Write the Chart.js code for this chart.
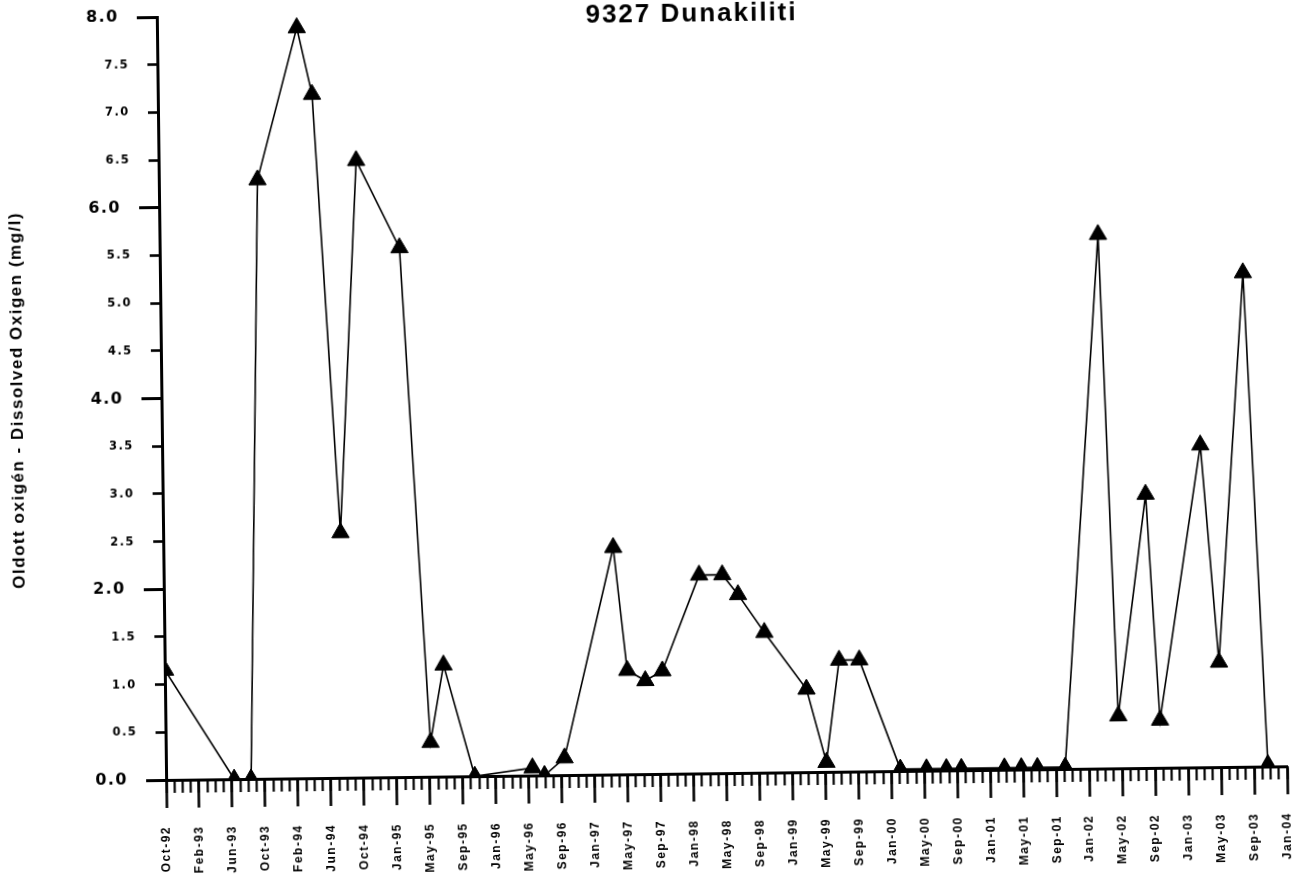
<!DOCTYPE html>
<html>
<head>
<meta charset="utf-8">
<title>9327 Dunakiliti</title>
<script src="https://cdn.jsdelivr.net/npm/chart.js@4.4.0/dist/chart.umd.min.js"></script>
<style>
  html, body { margin: 0; padding: 0; background: #fff; overflow: hidden; }
  /* the printed sheet sits slightly skewed on the scanner */
  #wrap { width: 1306px; height: 879px; transform: rotate(-0.7deg); }
</style>
</head>
<body>
<div id="wrap"><canvas id="oxygen"></canvas></div>
<script>
var stationName = '9327 Dunakiliti';
var yTitle = 'Oldott oxigén - Dissolved Oxigen (mg/l)';

// sampling dates and dissolved oxygen (mg/l)
var sampleDates = [
  '1992-10-06', '1993-06-12', '1993-08-13', '1993-10-02', '1994-03-02',
  '1994-04-24', '1994-07-18', '1994-09-30', '1995-03-04', '1995-06-04',
  '1995-07-25', '1995-11-12', '1996-06-11', '1996-07-25', '1996-10-07',
  '1997-04-13', '1997-05-29', '1997-08-03', '1997-10-05', '1998-02-21',
  '1998-05-17', '1998-07-13', '1998-10-16', '1999-03-17', '1999-05-26',
  '1999-07-16', '1999-09-28', '2000-02-21', '2000-05-27', '2000-08-08',
  '2000-10-02', '2001-03-09', '2001-05-10', '2001-07-08', '2001-10-18',
  '2002-03-11', '2002-05-03', '2002-08-21', '2002-10-03', '2003-03-12',
  '2003-05-10', '2003-08-23', '2003-11-01'
];
var oxygenValues = [
  1.15, 0.0, 0.0, 6.28, 7.87,
  7.17, 2.57, 6.47, 5.55, 0.36,
  1.17, 0.0, 0.08, 0.0, 0.18,
  2.38, 1.09, 0.98, 1.08, 2.08,
  2.08, 1.87, 1.47, 0.87, 0.1,
  1.17, 1.17, 0.02, 0.02, 0.02,
  0.02, 0.02, 0.02, 0.02, 0.02,
  5.6, 0.55, 2.87, 0.5, 3.38,
  1.1, 5.18, 0.02
];

// date axis: labelled ticks every 121 days, minor ticks in between
var xTickLabels = [
  'Oct-92', 'Feb-93', 'Jun-93', 'Oct-93', 'Feb-94', 'Jun-94', 'Oct-94',
  'Jan-95', 'May-95', 'Sep-95', 'Jan-96', 'May-96', 'Sep-96', 'Jan-97',
  'May-97', 'Sep-97', 'Jan-98', 'May-98', 'Sep-98', 'Jan-99', 'May-99',
  'Sep-99', 'Jan-00', 'May-00', 'Sep-00', 'Jan-01', 'May-01', 'Sep-01',
  'Jan-02', 'May-02', 'Sep-02', 'Jan-03', 'May-03', 'Sep-03', 'Jan-04'
];
var axisStart = '1992-10-05';
var tickDays = 121;
var minorPerTick = 4;

var DAY = 86400000;
var xMin = Date.parse(axisStart);
var xMax = xMin + (xTickLabels.length - 1) * tickDays * DAY;

function dateTicks(step) {
  var out = [];
  for (var t = xMin; t <= xMax + 1000; t += step) out.push({ value: t });
  return out;
}

var points = sampleDates.map(function (d, i) {
  return { x: Date.parse(d), y: oxygenValues[i] };
});

Chart.defaults.font.family = "'Liberation Sans', Arial, sans-serif";
Chart.defaults.color = '#000';

// scanned print has widely spaced lettering
var spacing = {
  id: 'spacing',
  beforeDraw: function (chart) { chart.ctx.letterSpacing = '1.5px'; },
  afterDraw: function (chart) { chart.ctx.letterSpacing = '0px'; }
};

var stationTitle = {
  id: 'stationTitle',
  afterDraw: function (chart) {
    var ctx = chart.ctx, area = chart.chartArea;
    ctx.save();
    ctx.font = "bold 26px 'Liberation Sans', Arial, sans-serif";
    ctx.letterSpacing = '2px';
    ctx.fillStyle = '#000';
    ctx.textAlign = 'center';
    ctx.textBaseline = 'alphabetic';
    ctx.fillText(stationName, area.left + area.width * 0.477, 22);
    ctx.restore();
  }
};

function flatten(scale) {
  scale.paddingLeft = 0;
  scale.paddingRight = 0;
  scale.paddingTop = 0;
  scale.paddingBottom = 0;
}

var tickFont = "'DejaVu Sans', sans-serif";

new Chart(document.getElementById('oxygen'), {
  type: 'line',
  data: {
    datasets: [{
      data: points,
      xAxisID: 'x',
      yAxisID: 'y',
      borderColor: '#000',
      borderWidth: 1.6,
      tension: 0,
      pointStyle: 'triangle',
      pointRadius: 10,
      pointBackgroundColor: '#000',
      pointBorderColor: '#000',
      pointBorderWidth: 1
    }]
  },
  options: {
    responsive: true,
    maintainAspectRatio: false,
    devicePixelRatio: 1,
    animation: false,
    layout: { padding: { top: 11, right: 23, bottom: 0, left: 0 } },
    plugins: { legend: { display: false }, tooltip: { enabled: false } },
    scales: {
      xMinor: {
        axis: 'x', type: 'linear', position: 'bottom', weight: 0,
        min: xMin, max: xMax,
        afterBuildTicks: function (s) { s.ticks = dateTicks(tickDays * DAY / minorPerTick); },
        afterFit: function (s) { s.height = 0; flatten(s); },
        grid: { drawOnChartArea: false, tickLength: 13, tickWidth: 2.2, color: '#000' },
        border: { display: true, color: '#000', width: 3 },
        ticks: { display: false }
      },
      x: {
        axis: 'x', type: 'linear', position: 'bottom', weight: 1,
        min: xMin, max: xMax,
        afterBuildTicks: function (s) { s.ticks = dateTicks(tickDays * DAY); },
        afterFit: function (s) { s.height = 105; flatten(s); },
        grid: { drawOnChartArea: false, tickLength: 28, tickWidth: 2.6, color: '#000' },
        border: { display: false },
        ticks: {
          autoSkip: false, minRotation: 90, maxRotation: 90, padding: 18,
          font: { size: 12, weight: 'bold' },
          callback: function (v, i) { return xTickLabels[i]; }
        }
      },
      // half-unit ticks; labels mirrored back out to the left of the axis
      yMinor: {
        axis: 'y', type: 'linear', position: 'left', weight: 0,
        min: 0, max: 8,
        afterFit: function (s) { s.width = 0; flatten(s); },
        grid: { drawOnChartArea: false, tickLength: 10, tickWidth: 2.6, color: '#000' },
        border: { display: true, color: '#000', width: 3 },
        ticks: {
          stepSize: 0.5, mirror: true, padding: -53,
          font: { family: tickFont, size: 11.5, weight: 'bold' },
          callback: function (v) { return v % 2 === 0 ? '' : v.toFixed(1); }
        }
      },
      y: {
        axis: 'y', type: 'linear', position: 'left', weight: 1,
        min: 0, max: 8,
        afterFit: function (s) { s.width = 162; flatten(s); },
        grid: { drawOnChartArea: false, tickLength: 20, tickWidth: 3, color: '#000' },
        border: { display: false },
        ticks: {
          stepSize: 2, padding: 18,
          font: { family: tickFont, size: 16, weight: 'bold' },
          callback: function (v) { return v.toFixed(1); }
        },
        title: {
          display: true, text: yTitle,
          font: { size: 17, weight: 'bold' },
          padding: { top: 8, bottom: 0 }
        }
      }
    }
  },
  plugins: [spacing, stationTitle]
});
</script>
</body>
</html>
